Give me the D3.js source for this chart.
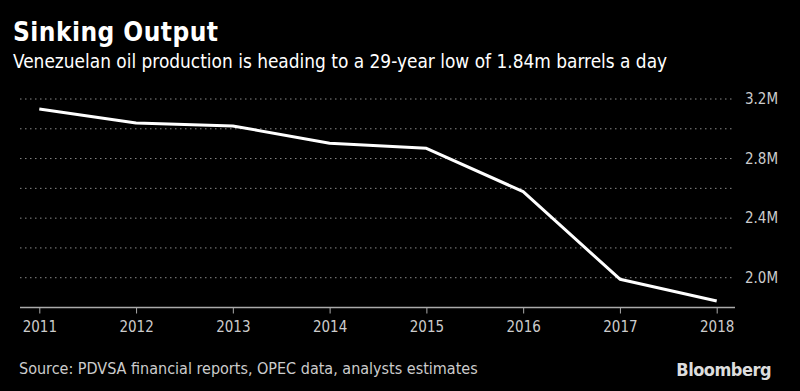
<!DOCTYPE html>
<html><head><meta charset="utf-8">
<script src="https://cdn.jsdelivr.net/npm/d3@7"></script>
<style>body{margin:0;background:#000}svg{display:block}</style>
</head><body>
<script>
const years = [2011, 2012, 2013, 2014, 2015, 2016, 2017, 2018];
const output = [3.133, 3.039, 3.019, 2.903, 2.869, 2.578, 1.99, 1.844];
const gridValues = [2.0, 2.2, 2.4, 2.6, 2.8, 3.0, 3.2];
const labelValues = [2.0, 2.4, 2.8, 3.2];
const title = "Sinking Output";
const subtitle = "Venezuelan oil production is heading to a 29-year low of 1.84m barrels a day";
const source = "Source: PDVSA financial reports, OPEC data, analysts estimates";

const W = 800, H = 391;
const font = "'Liberation Sans Narrow','DejaVu Sans Condensed',sans-serif";
const svg = d3.select("body").append("svg").attr("width", W).attr("height", H);
svg.append("rect").attr("width", W).attr("height", H).attr("fill", "#000");

const x = d3.scaleLinear().domain([2011, 2018]).range([39.3, 716.7]);
const y = d3.scaleLinear().domain([1.8, 3.2]).range([307.5, 99]);

svg.append("text").attr("x", 13).attr("y", 41).text(title)
  .attr("fill", "#fff").attr("font-family", font).attr("font-weight", "bold").attr("font-size", 26)
  .attr("textLength", 205).attr("lengthAdjust", "spacing");
svg.append("text").attr("x", 13).attr("y", 68).text(subtitle)
  .attr("fill", "#fff").attr("font-family", font).attr("font-size", 18.9);

// grid
svg.append("g").selectAll("line").data(gridValues).join("line")
  .attr("x1", 20).attr("x2", 735).attr("y1", d => y(d)).attr("y2", d => y(d))
  .attr("stroke", "#8a8a8a").attr("stroke-width", 1).attr("stroke-dasharray", "1.5,3.5");

// y labels
const yAxis = d3.axisRight(y).tickValues(labelValues).tickSize(0).tickPadding(0)
  .tickFormat(d => d3.format(".1f")(d) + "M");
const gy = svg.append("g").attr("transform", "translate(745,0)").call(yAxis);
gy.select(".domain").remove();
gy.selectAll("text").attr("fill", "#ccc").attr("font-family", font).attr("font-size", 15);

// x axis
const xAxis = d3.axisBottom(x).tickValues(years).tickFormat(d3.format("d")).tickSize(6).tickPadding(8);
const gx = svg.append("g").attr("transform", "translate(0,307.5)").call(xAxis);
gx.select(".domain").remove();
gx.append("line").attr("x1", 20).attr("x2", 735).attr("stroke", "#aaa").attr("stroke-width", 1.5);
gx.selectAll(".tick line").attr("stroke", "#aaa");
gx.selectAll("text").attr("fill", "#ccc").attr("font-family", font).attr("font-size", 15);

// line
const line = d3.line().x((d, i) => x(years[i])).y(d => y(d));
svg.append("path").datum(output).attr("d", line)
  .attr("fill", "none").attr("stroke", "#fff").attr("stroke-width", 3).attr("stroke-linejoin", "round");

svg.append("text").attr("x", 19).attr("y", 374).text(source)
  .attr("fill", "#ccc").attr("font-family", font).attr("font-size", 16);
svg.append("text").attr("x", 771).attr("y", 376).attr("text-anchor", "end").text("Bloomberg")
  .attr("fill", "#ddd").attr("font-family", font).attr("font-weight", "bold").attr("font-size", 18).attr("letter-spacing", -0.5);
</script>
</body></html>
